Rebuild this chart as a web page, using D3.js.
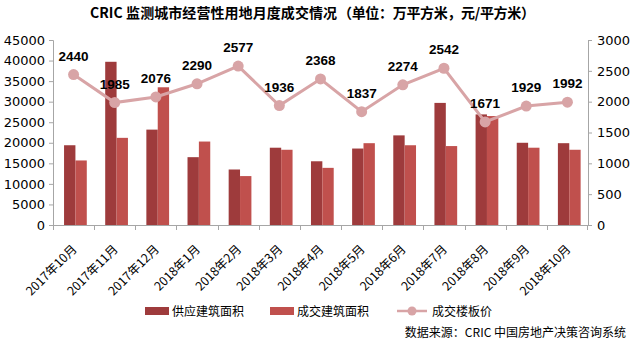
<!DOCTYPE html>
<html><head><meta charset="utf-8">
<script src="https://cdn.jsdelivr.net/npm/d3@7/dist/d3.min.js"></script>
<style>body{margin:0;background:#fff}svg{display:block}</style>
</head><body>
<svg id="c" width="636" height="343"></svg>
<script>
const months = ["2017年10月","2017年11月","2017年12月","2018年1月","2018年2月","2018年3月","2018年4月","2018年5月","2018年6月","2018年7月","2018年8月","2018年9月","2018年10月"];
const supply = [19400,39700,23200,16500,13500,18800,15500,18600,21800,29700,26900,20000,19900];
const deal = [15700,21200,33500,20300,11900,18300,13900,19900,19400,19200,26500,18800,18300];
const price = [2440,1985,2076,2290,2577,1936,2368,1837,2274,2542,1671,1929,1992];
const leftTicks = [0,5000,10000,15000,20000,25000,30000,35000,40000,45000];
const rightTicks = [0,500,1000,1500,2000,2500,3000];
const seriesNames = ["供应建筑面积","成交建筑面积","成交楼板价"];
const titleMain = "CRIC 监测城市经营性用地月度成交情况";
const titleUnit = "（单位：万平方米，元/平方米）";
const source = "数据来源：CRIC 中国房地产决策咨询系统";

const colors = {supply:"#9E3B3C", deal:"#C0504D", line:"#D8A4A6"};
const L=53, R=588, T=40, B=225;
const cjk = "'Noto Sans CJK SC', sans-serif";
const num = "'DejaVu Sans', sans-serif";
const bold = "'Liberation Sans', Arial, sans-serif";

const svg = d3.select("#c");
const x0 = d3.scaleBand().domain(months).range([L,R]).padding(0);
const x1 = d3.scaleBand().domain(["s","d"]).range([0,x0.bandwidth()]).paddingInner(0).paddingOuter(0.81).align(0.6);
const yL = d3.scaleLinear().domain([0,45000]).range([B,T]);
const yR = d3.scaleLinear().domain([0,3000]).range([B,T]);

// title: fit each part to its width in the reference
function fitText(str, x, target){
  const t = svg.append("text").attr("x",x).attr("y",18)
    .attr("font-family",cjk).attr("font-weight","bold").attr("font-size",14).attr("fill","#000").text(str);
  const len = t.node().getComputedTextLength();
  const n = Array.from(str).length;
  if (n>1) t.style("letter-spacing", ((target-len)/(n-1)).toFixed(2)+"px");
  return t;
}
fitText(titleMain, 90, 247);
fitText(titleUnit, 338, 197);

// bars
const g = svg.append("g");
months.forEach((m,i)=>{
  g.append("rect").attr("x",x0(m)+x1("s")).attr("width",x1.bandwidth()).attr("y",yL(supply[i])).attr("height",B-yL(supply[i])).attr("fill",colors.supply);
  g.append("rect").attr("x",x0(m)+x1("d")).attr("width",x1.bandwidth()).attr("y",yL(deal[i])).attr("height",B-yL(deal[i])).attr("fill",colors.deal);
});

// axes
const axisColor = "#A6A6A6";
const ga = svg.append("g").attr("transform",`translate(${L},0)`).call(d3.axisLeft(yL).tickValues(leftTicks).tickSize(4).tickPadding(4).tickFormat(d3.format("d")));
const gr = svg.append("g").attr("transform",`translate(${R},0)`).call(d3.axisRight(yR).tickValues(rightTicks).tickSize(4).tickPadding(5).tickFormat(d3.format("d")));
[ga,gr].forEach(a=>{
  a.select(".domain").attr("stroke",axisColor);
  a.selectAll(".tick line").attr("stroke",axisColor);
  a.selectAll(".tick text").attr("font-family",num).attr("font-size",13).attr("fill","#000");
});
// x axis
const gx = svg.append("g");
gx.append("line").attr("x1",L).attr("x2",R).attr("y1",B+0.5).attr("y2",B+0.5).attr("stroke",axisColor);
months.forEach((m,i)=>{
  const xx = Math.round(x0(m))+0.5;
  gx.append("line").attr("x1",xx).attr("x2",xx).attr("y1",B).attr("y2",B+5).attr("stroke",axisColor);
});
gx.append("line").attr("x1",R-0.5).attr("x2",R-0.5).attr("y1",B).attr("y2",B+5).attr("stroke",axisColor);
months.forEach(m=>{
  const cx = x0(m)+x0.bandwidth()/2+4;
  gx.append("text").attr("transform",`translate(${cx},${B+25}) rotate(-45)`).attr("text-anchor","end")
    .attr("font-family",cjk).attr("font-size",12.3).attr("fill","#000").text(m);
});

// line
const cxp = i => x0(months[i])+x0.bandwidth()/2;
const line = d3.line().x((d,i)=>cxp(i)).y(d=>yR(d));
svg.append("path").attr("d",line(price)).attr("fill","none").attr("stroke",colors.line).attr("stroke-width",3);
price.forEach((p,i)=>{
  svg.append("circle").attr("cx",cxp(i)).attr("cy",yR(p)).attr("r",5.5).attr("fill",colors.line);
  svg.append("text").attr("x",cxp(i)).attr("y",yR(p)-14).attr("text-anchor","middle")
    .attr("font-family",bold).attr("font-weight","bold").attr("font-size",13.5).attr("fill","#000").text(p);
});

// legend
const ly = 311;
const leg = svg.append("g");
leg.append("rect").attr("x",145).attr("y",ly-4).attr("width",24).attr("height",8).attr("fill",colors.supply);
leg.append("text").attr("x",172).attr("y",ly+4.5).attr("font-family",cjk).attr("font-size",12).text(seriesNames[0]);
leg.append("rect").attr("x",270).attr("y",ly-4).attr("width",24).attr("height",8).attr("fill",colors.deal);
leg.append("text").attr("x",297).attr("y",ly+4.5).attr("font-family",cjk).attr("font-size",12).text(seriesNames[1]);
leg.append("line").attr("x1",397).attr("x2",427).attr("y1",ly).attr("y2",ly).attr("stroke",colors.line).attr("stroke-width",2.5);
leg.append("circle").attr("cx",412).attr("cy",ly).attr("r",4.5).attr("fill",colors.line);
leg.append("text").attr("x",432).attr("y",ly+4.5).attr("font-family",cjk).attr("font-size",12).text(seriesNames[2]);

// source
svg.append("text").attr("x",626).attr("y",337).attr("text-anchor","end").attr("font-family",cjk).attr("font-size",12).attr("fill","#000").text(source);
</script>
</body></html>
